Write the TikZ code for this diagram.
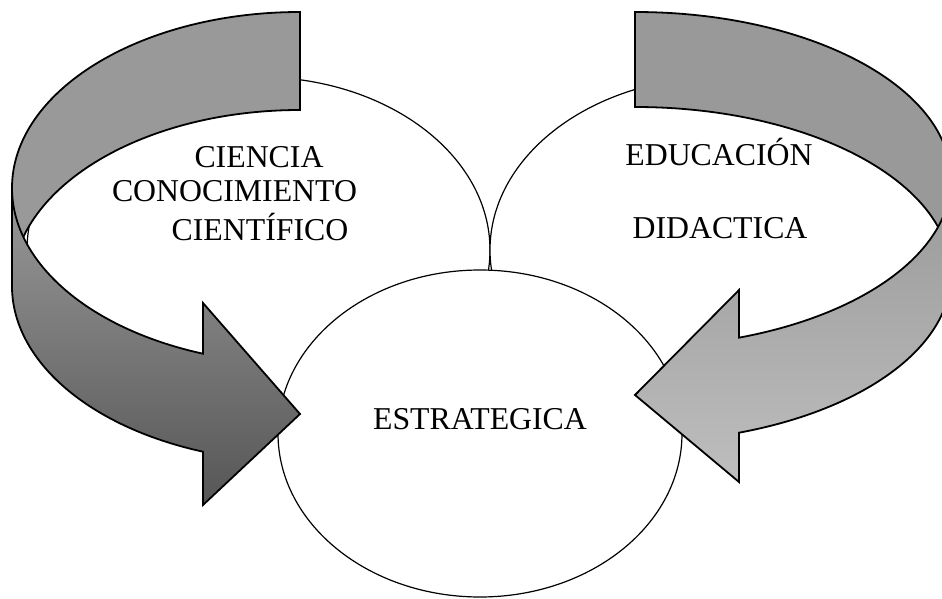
\documentclass[tikz,border=0pt]{standalone}
\usepackage{fontspec}
\setmainfont{Liberation Serif}
\usetikzlibrary{shapes.geometric}
\definecolor{bandgray}{HTML}{999999}
\definecolor{leftbot}{HTML}{565656}
\definecolor{rightbot}{HTML}{BEBEBE}
\begin{document}
\begin{tikzpicture}[x=1pt,y=-1pt,
  oval/.style={ellipse, draw=black, line width=1.2pt, fill=white, inner sep=0pt},
  band/.style={draw=black, line width=1.8pt, line join=miter},
  lbl/.style={anchor=base, inner sep=0pt, font=\fontsize{31.8}{36.5}\selectfont}]
\useasboundingbox (0,0) rectangle (942,599);
% ovals
\node[oval, minimum width=463pt, minimum height=346pt] (cien) at (258.5,250) {};
\node[oval, minimum width=463pt, minimum height=346pt] (edu) at (721.5,250) {};
\node[oval, minimum width=404pt, minimum height=327pt] (estr) at (480,433.5) {};
% left curved arrow: back band
\path[band, fill=bandgray] (300,12)
  arc[start angle=270, end angle=180, x radius=288, y radius=176]
  -- (12,286)
  arc[start angle=180, end angle=270, x radius=288, y radius=176]
  -- cycle;
% left curved arrow: front band with head
\path[band, top color=bandgray, bottom color=leftbot] (12,188)
  arc[start angle=180, end angle=109.68, x radius=288, y radius=176]
  -- (203,303) -- (300,414) -- (203,505) -- (203,451.7)
  arc[start angle=109.68, end angle=180, x radius=288, y radius=176]
  -- cycle;
% right curved arrow: back band
\path[band, fill=bandgray] (635,12)
  arc[start angle=270, end angle=360, x radius=316, y radius=167.5]
  -- (951,274.5)
  arc[start angle=0, end angle=-90, x radius=316, y radius=167.5]
  -- cycle;
% right curved arrow: front band with head
\path[band, top color=bandgray, bottom color=rightbot] (951,179.5)
  arc[start angle=0, end angle=70.78, x radius=316, y radius=167.5]
  -- (739,290) -- (635,395) -- (739,482) -- (739,432.7)
  arc[start angle=70.78, end angle=0, x radius=316, y radius=167.5]
  -- cycle;
% labels
\node[lbl] (t1) at (259,167) {CIENCIA};
\node[lbl] (t2) at (234.5,201.7) {CONOCIMIENTO};
\node[lbl] (t3) at (260,240) {CIENTÍFICO};
\node[lbl] (t4) at (719,165) {EDUCACIÓN};
\node[lbl] (t5) at (720,238) {DIDACTICA};
\node[lbl] (t6) at (480,429.3) {ESTRATEGICA};
\end{tikzpicture}
\end{document}
